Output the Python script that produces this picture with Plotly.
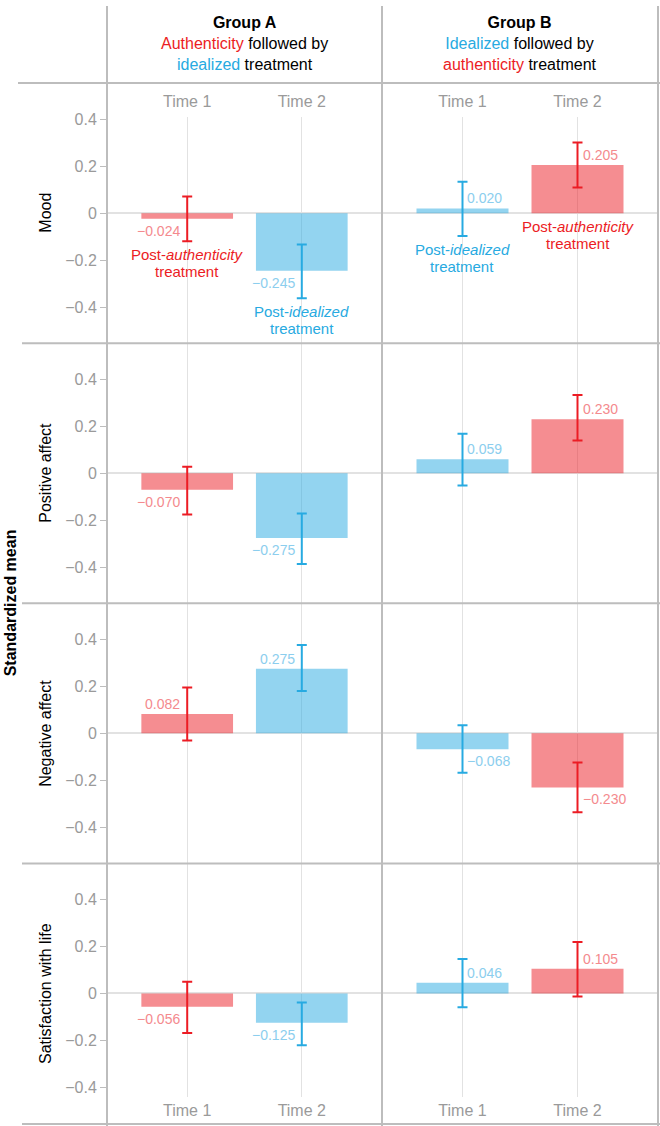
import plotly.graph_objects as go

# ---------------- data ----------------
measures = ["Mood", "Positive affect", "Negative affect", "Satisfaction with life"]
times = ["Time 1", "Time 2"]
groups = ["Group A", "Group B"]

a_mean = [[-0.024, -0.245], [-0.070, -0.275], [0.082, 0.275], [-0.056, -0.125]]
a_upper = [[0.071, -0.133], [0.028, -0.171], [0.195, 0.376], [0.050, -0.038]]
a_lower = [[-0.119, -0.362], [-0.175, -0.386], [-0.030, 0.180], [-0.168, -0.220]]

b_mean = [[0.020, 0.205], [0.059, 0.230], [-0.068, -0.230], [0.046, 0.105]]
b_upper = [[0.133, 0.300], [0.168, 0.333], [0.034, -0.124], [0.147, 0.219]]
b_lower = [[-0.097, 0.109], [-0.052, 0.139], [-0.168, -0.336], [-0.059, -0.013]]

a_treat = ["authenticity", "idealized"]
b_treat = ["idealized", "authenticity"]

ytick_vals = [-0.4, -0.2, 0, 0.2, 0.4]
ytick_text = ["\u22120.4", "\u22120.2", "0", "0.2", "0.4"]

# ---------------- styles ----------------
FONT = "Liberation Sans, Arial, Helvetica, sans-serif"
RED = "#EC1C24"
BLUE = "#27AAE1"
BAR = {"authenticity": "rgba(236,28,36,0.5)", "idealized": "rgba(39,170,225,0.5)"}
LBL = {"authenticity": "rgb(244,138,142)", "idealized": "rgb(140,206,238)"}
ERR = {"authenticity": RED, "idealized": BLUE}
LINE = "#BDBDBD"
GRID = "#E2E2E2"
TICKGRAY = "#9A9A9A"

W, H = 660, 1126


def fx(p):
    return p / W


def fy(p):
    return 1 - p / H


col_px = [(107, 382), (382, 658)]
row_px = [(77.5, 339), (339, 600.5), (600.5, 862), (862, 1123.5)]
HALF = 0.553
dom_px = [(111.5, 339), (339, 600.5), (600.5, 862), (862, 1097)]

fig = go.Figure()
layout = dict(
    width=W, height=H, autosize=False,
    margin=dict(l=0, r=0, t=0, b=0),
    paper_bgcolor="white", plot_bgcolor="white",
    showlegend=False, barmode="overlay",
    font=dict(family=FONT, size=16, color="black"),
)
annotations = []
shapes = []

groups_data = [
    (a_mean, a_upper, a_lower, a_treat),
    (b_mean, b_upper, b_lower, b_treat),
]

for r in range(4):
    rt, rb = row_px[r]
    ppu = (rb - rt) / (2 * HALF)
    dt, db = dom_px[r]
    ytop = HALF - (dt - rt) / ppu
    ybot = -HALF + (rb - db) / ppu
    for c in range(2):
        idx = r * 2 + c + 1
        xname = "x" if idx == 1 else f"x{idx}"
        yname = "y" if idx == 1 else f"y{idx}"
        xkey = "xaxis" if idx == 1 else f"xaxis{idx}"
        ykey = "yaxis" if idx == 1 else f"yaxis{idx}"
        show_x = r in (0, 3)
        layout[xkey] = dict(
            domain=[fx(col_px[c][0]), fx(col_px[c][1])],
            anchor=yname, type="category", categoryorder="array",
            categoryarray=times, range=[-0.7, 1.7],
            showgrid=True, gridcolor=GRID, gridwidth=1,
            zeroline=False, showline=False, ticks="",
            showticklabels=show_x, side="top" if r == 0 else "bottom",
            ticklabelstandoff=6 if r == 0 else 2,
            tickfont=dict(size=16, color=TICKGRAY, family=FONT),
            fixedrange=True,
        )
        layout[ykey] = dict(
            domain=[fy(db), fy(dt)],
            anchor=xname, range=[ybot, ytop],
            tickvals=ytick_vals, ticktext=ytick_text,
            showticklabels=(c == 0), ticks="outside" if c == 0 else "",
            ticklen=6, tickwidth=1, tickcolor=LINE,
            tickfont=dict(size=16, color=TICKGRAY, family=FONT),
            showgrid=False, zeroline=True, zerolinecolor=GRID, zerolinewidth=1.5,
            showline=False, fixedrange=True,
        )
        means, ups, lows, treats = groups_data[c]
        for t in range(2):
            m = means[r][t]
            up = ups[r][t]
            lo = lows[r][t]
            tr = treats[t]
            fig.add_trace(go.Bar(
                x=[times[t]], y=[m], width=0.8,
                marker=dict(color=BAR[tr], line=dict(width=0)),
                error_y=dict(type="data", symmetric=False,
                             array=[up - m], arrayminus=[m - lo],
                             color=ERR[tr], thickness=2, width=5),
                xaxis=xname, yaxis=yname, hoverinfo="skip",
            ))
            label = f"{m:.3f}".replace("-", "\u2212")
            annotations.append(dict(
                x=times[t], y=m, xref=xname, yref=yname,
                text=label, showarrow=False,
                xanchor="right" if c == 0 else "left",
                xshift=-5 if c == 0 else 3,
                yanchor="bottom" if m >= 0 else "top",
                yshift=0 if m >= 0 else -2,
                font=dict(size=14, color=LBL[tr], family=FONT),
            ))
            if r == 0:
                base = min(lo, 0)
                annotations.append(dict(
                    x=times[t], y=base, xref=xname, yref=yname,
                    text=f"Post-<i>{tr}</i>", showarrow=False,
                    xanchor="center", yanchor="top", yshift=-3,
                    font=dict(size=15, color=ERR[tr], family=FONT),
                ))
                annotations.append(dict(
                    x=times[t], y=base, xref=xname, yref=yname,
                    text="treatment", showarrow=False,
                    xanchor="center", yanchor="top", yshift=-20,
                    font=dict(size=15, color=ERR[tr], family=FONT),
                ))
    # row label
    annotations.append(dict(
        x=fx(45.5), y=fy((rt + rb) / 2), xref="paper", yref="paper",
        text=measures[r], textangle=-90, showarrow=False,
        xanchor="center", yanchor="middle",
        font=dict(size=16, color="black", family=FONT),
    ))

# column headers
headers = [
    f"<b>{groups[0]}</b><br><span style='color:{RED}'>Authenticity</span> followed by<br>"
    f"<span style='color:{BLUE}'>idealized</span> treatment",
    f"<b>{groups[1]}</b><br><span style='color:{BLUE}'>Idealized</span> followed by<br>"
    f"<span style='color:{RED}'>authenticity</span> treatment",
]
for c in range(2):
    annotations.append(dict(
        x=fx((col_px[c][0] + col_px[c][1]) / 2), y=fy(6), xref="paper", yref="paper",
        text=headers[c], showarrow=False, xanchor="center", yanchor="top",
        align="center", font=dict(size=16, color="black", family=FONT),
    ))

annotations.append(dict(
    x=fx(10), y=fy((row_px[0][0] + row_px[3][1]) / 2), xref="paper", yref="paper",
    text="<b>Standardized mean</b>", textangle=-90, showarrow=False,
    xanchor="center", yanchor="middle",
    font=dict(size=16, color="black", family=FONT),
))

# frame lines
for xp in (107, 382, 658):
    shapes.append(dict(type="line", xref="paper", yref="paper",
                       x0=fx(xp), x1=fx(xp), y0=0, y1=1,
                       line=dict(color=LINE, width=2)))
shapes.append(dict(type="line", xref="paper", yref="paper",
                   x0=fx(18), x1=1, y0=fy(77.5), y1=fy(77.5),
                   line=dict(color=LINE, width=2)))
for yp in (339, 600.5, 862, 1124):
    shapes.append(dict(type="line", xref="paper", yref="paper",
                       x0=fx(22), x1=1, y0=fy(yp), y1=fy(yp),
                       line=dict(color=LINE, width=2)))

layout["annotations"] = annotations
layout["shapes"] = shapes
fig.update_layout(**layout)
fig.write_html(
    "out.html",
    config={"displayModeBar": False},
    post_script="document.body.style.margin='0';document.body.style.overflow='hidden';",
)
